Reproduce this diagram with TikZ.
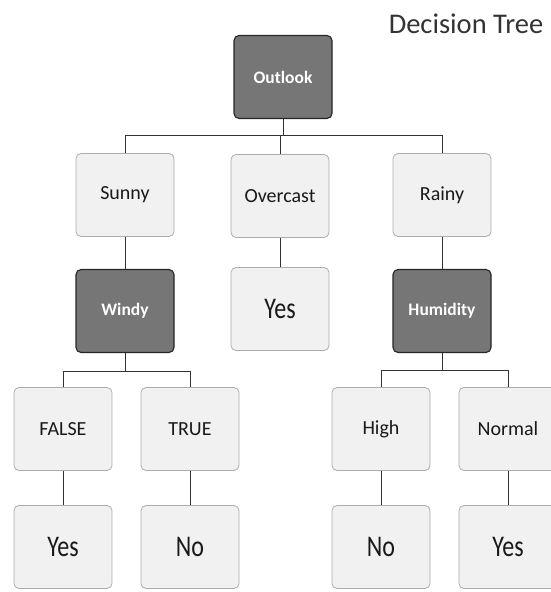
\documentclass[tikz,border=0pt]{standalone}
\usepackage{fontspec}
\setmainfont{Carlito}
\newfontfamily\narrowfont{Carlito}[FakeStretch=0.8]
\usepackage{tikz}
\definecolor{darkbox}{HTML}{767676}
\definecolor{lightbox}{HTML}{F1F1F1}
\tikzset{
	attr/.style={draw=black!85, line width=1.1pt, fill=darkbox, rounded corners=5pt,
		minimum width=98pt, minimum height=83pt, text=white, font=\fontsize{17.5}{19}\selectfont\bfseries},
	val/.style={draw=gray!65, line width=0.8pt, fill=lightbox, rounded corners=5pt,
		minimum width=98pt, minimum height=83pt, text=black!90, font=\fontsize{20}{22}\selectfont},
	leaf/.style={val, font=\narrowfont\fontsize{30}{32}\selectfont},
	link/.style={draw=black!80, line width=0.9pt}
}

\begin{document}
\begin{tikzpicture}[x=1pt, y=-1pt]
		%%%%% START %%%%%
		\useasboundingbox (0, 0) rectangle (551, 592);
		
		\node[text=black!80, font=\fontsize{28.5}{30}\selectfont] (title) at (466, 24) {Decision Tree};
		
		% root
		\node[attr] (outlook) at (283, 77) {Outlook};
		
		% first level
		\node[val] (sunny) at (125, 195) {Sunny};
		\node[val] (overcast) at (280, 196) {Overcast};
		\node[val] (rainy) at (442, 195) {Rainy};
		
		\node[attr] (windy) at (125, 311) {Windy};
		\node[leaf] (yesmid) at (280, 309) {Yes};
		\node[attr] (humidity) at (442, 311) {Humidity};
		
		% second level
		\node[val] (false) at (63, 429) {FALSE};
		\node[val] (true) at (190, 429) {TRUE};
		\node[val] (high) at (381, 429) {High};
		\node[val] (normal) at (508, 429) {Normal};
		
		\node[leaf] (yesA) at (63, 547) {Yes};
		\node[leaf] (noA) at (190, 547) {No};
		\node[leaf] (noB) at (381, 547) {No};
		\node[leaf] (yesB) at (508, 547) {Yes};
		
		% connectors
		\coordinate (topbus) at (283, 135);
		\draw[link] (outlook) -- (topbus);
		\draw[link] (topbus) -| (sunny.north);
		\draw[link] (topbus) -| (overcast.north);
		\draw[link] (topbus) -| (rainy.north);
		
		\draw[link] (sunny) -- (windy);
		\draw[link] (overcast) -- (yesmid);
		\draw[link] (rainy) -- (humidity);
		
		\coordinate (leftbus) at (125, 371);
		\draw[link] (windy) -- (leftbus);
		\draw[link] (leftbus) -| (false.north);
		\draw[link] (leftbus) -| (true.north);
		
		\coordinate (rightbus) at (442, 370);
		\draw[link] (humidity) -- (rightbus);
		\draw[link] (rightbus) -| (high.north);
		\draw[link] (rightbus) -| (normal.north);
		
		\draw[link] (false) -- (yesA);
		\draw[link] (true) -- (noA);
		\draw[link] (high) -- (noB);
		\draw[link] (normal) -- (yesB);
		
		%%%%% END %%%%%
	\end{tikzpicture}
\end{document}
